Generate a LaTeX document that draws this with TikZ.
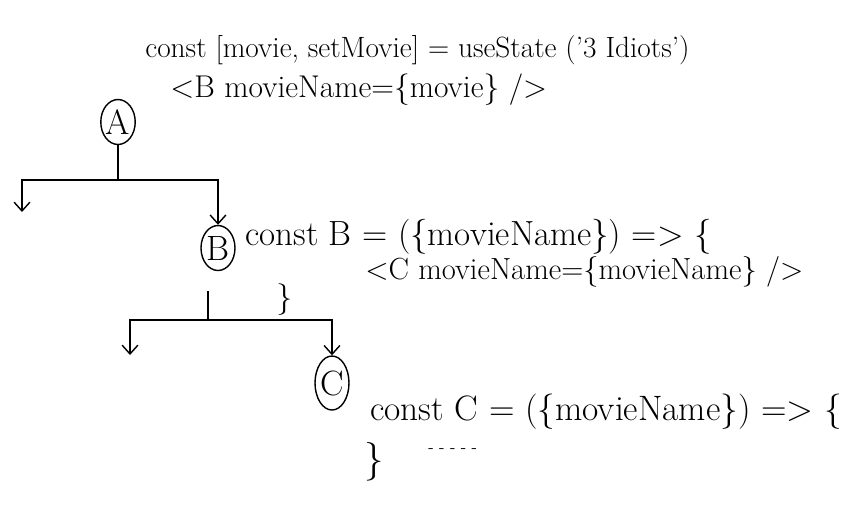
\documentclass[tikz,border=0pt]{standalone}
\usepackage{fontspec}
\usetikzlibrary{shapes.geometric,arrows.meta}
\tikzset{
	comp/.style={draw,thick,ellipse,minimum width=0.68cm,minimum height=0.9cm,inner sep=0pt,font=\fontsize{20}{22}\selectfont},
	code/.style={anchor=west,inner sep=0pt},
	flow/.style={thick,-{Straight Barb[length=5pt,width=9pt]}}
}
\begin{document}
\begin{tikzpicture}[x=0.02cm,y=-0.02cm]
	\useasboundingbox (0,0) rectangle (859,528);
	% components
	\node[comp] (A) at (118,122) {A};
	\node[comp] (B) at (218,248) {B};
	\node[comp,minimum height=1.08cm] (C) at (332,383) {C};
	% code of each component
	\node[code,font=\fontsize{16.7}{18}\selectfont] (la1) at (145,50) {const [movie, setMovie] = useState ('3 Idiots')};
	\node[code,font=\fontsize{17.9}{19}\selectfont] (la2) at (170,90) {<B movieName=\{movie\} />};
	\node[code,font=\fontsize{19.9}{21}\selectfont] (lb1) at (245,237) {const B = (\{movieName\}) => \{};
	\node[code,font=\fontsize{17.4}{19}\selectfont] (lb2) at (365,272) {<C movieName=\{movieName\} />};
	\node[code,font=\fontsize{18}{20}\selectfont] (lb3) at (276,300) {\}};
	\node[code,font=\fontsize{20.1}{22}\selectfont] (lc1) at (370,412) {const C = (\{movieName\}) => \{};
	\node[code,font=\small] (lc2) at (428,451) {- - - - -};
	\node[code,font=\fontsize{22}{24}\selectfont] (lc3) at (364,462) {\}};
	% tree below A
	\coordinate (aj) at (A.south |- 0,180);
	\coordinate (al) at (22,180);
	\coordinate (ar) at (B.north |- 0,180);
	\coordinate (ad) at (22,212);
	\draw[thick] (A.south) -- (aj);
	\draw[flow] (aj) -- (al) -- (ad);
	\draw[flow] (aj) -- (ar) -- (B.north);
	% tree below B
	\coordinate (bj) at (208,320);
	\coordinate (bl) at (130,320);
	\coordinate (br) at (C.north |- 0,320);
	\coordinate (bd) at (130,355);
	\draw[thick,shorten <=0.4cm] (B.south -| bj) -- (bj);
	\draw[flow] (bj) -- (bl) -- (bd);
	\draw[flow] (bj) -- (br) -- (C.north);
\end{tikzpicture}
\end{document}
